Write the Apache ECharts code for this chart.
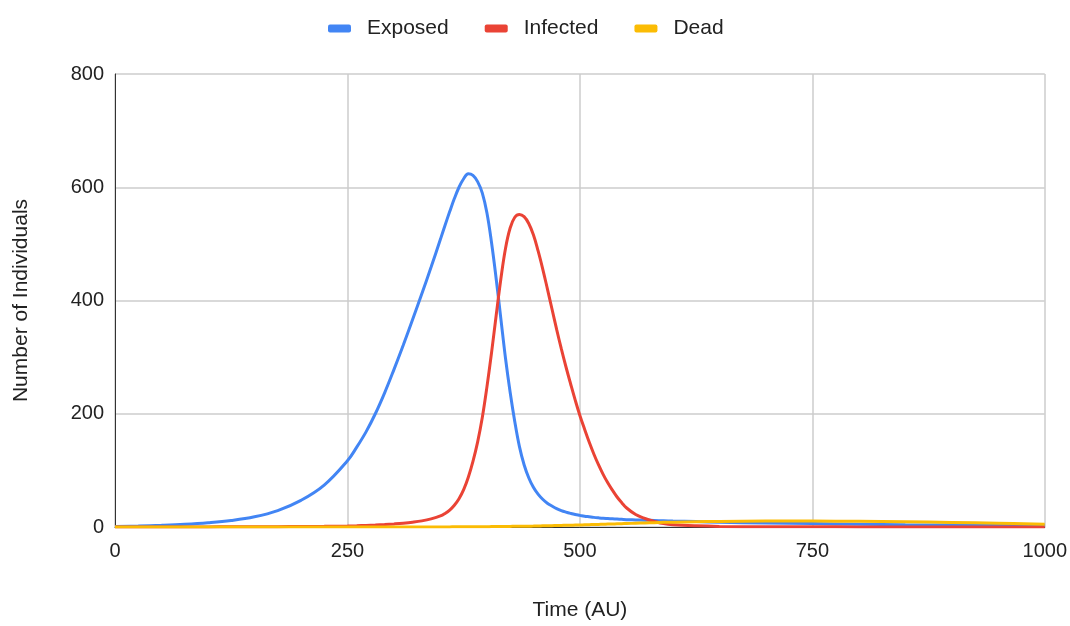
<!DOCTYPE html>
<html>
<head>
<meta charset="utf-8">
<script src="https://cdn.jsdelivr.net/npm/echarts@6/dist/echarts.min.js"></script>
<style>
html,body{margin:0;padding:0;background:#fff;overflow:hidden;}
#chart{width:1070px;height:626px;}
</style>
</head>
<body>
<div id="chart"></div>
<script>
const time = [0,25,50,75,100,125,150,175,200,225,250,
  260,270,280,290,300,310,320,330,340,
  350,355,360,365,370,375,380,
  385,390,395,400,405,410,415,420,425,430,435,440,
  445,450,455,460,465,470,475,480,485,490,
  495,500,505,510,515,520,525,530,535,540,545,550,
  560,570,580,590,600,
  625,650,
  700,750,800,850,900,950,1000];

const exposed = [1,1.7,3,4.8,7.5,11.5,18,29,47,74,117,
  141,168,200,237,278,321,366,412,459,
  508,533,557,580,600,615,624,
  621,610,590,555,502,438,368,298,238,186,142,110,
  87,70,58,49,42,37,32.5,29,26.3,24,
  22,20.5,19,18,17,16.2,15.5,15,14.5,14,13.5,13,
  12.5,12,11.5,11,10.5,
  9.5,8.5,
  7,6,5,4,3.5,3,2.5];

const infected = [0,0,0,0,0.2,0.3,0.4,0.6,0.8,1.2,1.8,
  2.2,2.8,3.5,4.4,5.5,6.8,8.5,10.8,14.3,
  19.5,24,30,38.5,50,66,88,
  116,150,193,247,308,374,438,492,528,547,552,548,
  536,516,488,456,421,385,349,315,283,253,
  224,197,173,150,129,110,93,78,65,53,43,34,
  22,15,10,6,4,
  2,1,
  0.5,0.3,0.2,0.1,0.1,0,0];

const dead = [0,0,0,0,0,0,0,0,0,0,0,
  0,0,0,0,0,0.1,0.1,0.1,0.2,
  0.2,0.2,0.2,0.3,0.3,0.3,0.4,
  0.4,0.5,0.5,0.6,0.7,0.8,0.9,1,1.1,1.2,1.3,1.4,
  1.5,1.6,1.8,2,2.2,2.4,2.6,2.8,3,3.2,
  3.4,3.6,3.85,4.1,4.35,4.6,4.85,5.1,5.35,5.6,5.85,6.1,
  6.7,7.2,7.7,8.2,8.6,
  9.4,9.9,
  10.4,10.5,10,9.2,8,6.6,5];

const seriesNames = ['Exposed','Infected','Dead'];
const seriesColors = ['#4285F4','#EA4335','#FBBC04'];
const seriesValues = [exposed, infected, dead];

const xTicks = [0,250,500,750,1000];
const yTicks = [0,200,400,600,800];

const chart = echarts.init(document.getElementById('chart'));
const font = '"Liberation Sans", Arial, sans-serif';

chart.setOption({
  animation: false,
  textStyle: {fontFamily: font},
  legend: {
    top: 13,
    left: 323,
    itemWidth: 23,
    itemHeight: 8,
    itemGap: 36,
    icon: 'roundRect',
    textStyle: {fontSize: 21, color: '#222', fontFamily: font, padding: [0,0,0,11]},
    data: seriesNames
  },
  grid: {left: 115, top: 74, width: 931, height: 457, containLabel: false},
  xAxis: {
    type: 'value',
    min: xTicks[0], max: xTicks[xTicks.length - 1], interval: xTicks[1] - xTicks[0],
    name: 'Time (AU)',
    nameLocation: 'middle',
    nameGap: 73,
    nameTextStyle: {fontSize: 21, color: '#222', fontFamily: font},
    axisLine: {show: true, lineStyle: {color: '#333', width: 1}},
    axisTick: {show: false},
    axisLabel: {fontSize: 20, color: '#222', margin: 14, fontFamily: font, formatter: v => String(v)},
    splitLine: {show: true, lineStyle: {color: '#ccc', width: 1.5}}
  },
  yAxis: {
    type: 'value',
    min: yTicks[0], max: yTicks[yTicks.length - 1], interval: yTicks[1] - yTicks[0],
    name: 'Number of Individuals',
    nameLocation: 'middle',
    nameGap: 83,
    nameRotate: 90,
    nameTextStyle: {fontSize: 21, color: '#222', fontFamily: font},
    axisLine: {show: true, lineStyle: {color: '#333', width: 1}},
    axisTick: {show: false},
    axisLabel: {fontSize: 20, color: '#222', margin: 11, fontFamily: font, formatter: v => String(v)},
    splitLine: {show: true, lineStyle: {color: '#ccc', width: 1.5}}
  },
  series: seriesNames.map((n, i) => ({
    name: n,
    type: 'line',
    smooth: 0.4,
    showSymbol: false,
    symbol: 'none',
    color: seriesColors[i],
    lineStyle: {width: 3, color: seriesColors[i]},
    z: 2 + i,
    data: time.map((t, k) => [t, seriesValues[i][k]])
  }))
});
</script>
</body>
</html>
